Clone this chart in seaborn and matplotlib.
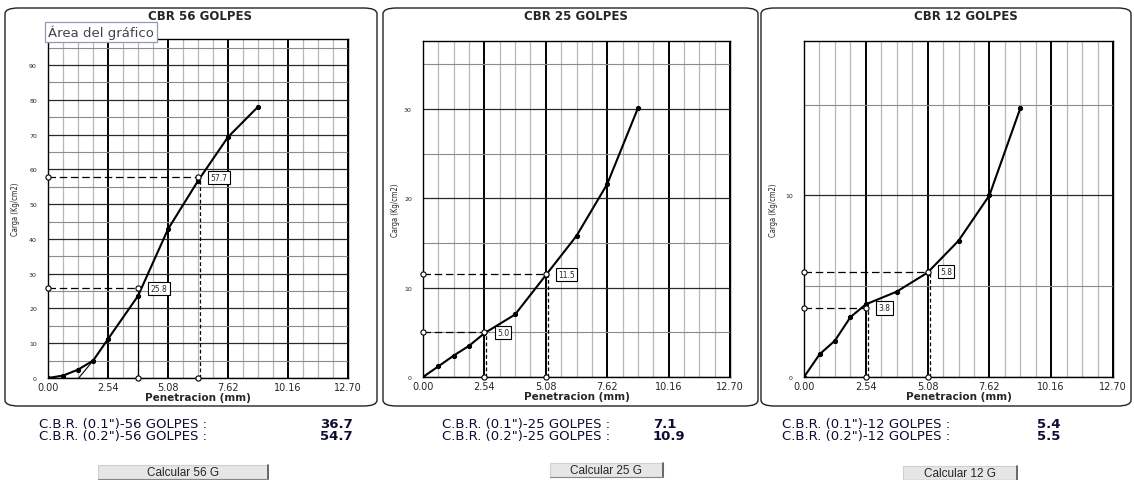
"""CBR curves (56 / 25 / 12 golpes) - carga vs penetracion."""

import matplotlib

matplotlib.use("Agg")
import matplotlib.pyplot as plt
import seaborn as sns
from matplotlib.patches import FancyBboxPatch, Rectangle
from matplotlib.ticker import MultipleLocator

W, H = 1134, 481

# Penetracion (mm) de las lecturas
PENETRATION = [0.00, 0.64, 1.27, 1.91, 2.54, 3.81, 5.08, 6.35, 7.62, 8.89]

# Carga (Kg/cm2) por ensayo
LOAD_56 = [0.0, 0.7, 2.4, 5.0, 11.2, 23.6, 42.8, 56.7, 69.3, 78.0]
LOAD_25 = [0.0, 1.2, 2.4, 3.5, 4.9, 7.0, 11.4, 15.8, 21.6, 30.1]
LOAD_12 = [0.0, 1.25, 2.0, 3.3, 4.0, 4.7, 5.75, 7.5, 10.0, 14.8]

# Lecturas a 0.1" y 0.2" (penetracion corregida, carga)
READ_X_56 = [3.81, 6.35]
READ_Y_56 = [25.8, 57.7]
READ_X_25 = [2.54, 5.08]
READ_Y_25 = [5.0, 11.5]
READ_X_12 = [2.54, 5.08]
READ_Y_12 = [3.8, 5.8]

# Recta de correccion (56 golpes)
CORR_X_56 = [1.30, 1.91]
CORR_Y_56 = [0.0, 5.0]

BLOWS = ["56", "25", "12"]
CBR_01 = ["36.7", "7.1", "5.4"]
CBR_02 = ["54.7", "10.9", "5.5"]

X_TICKS = [0.00, 2.54, 5.08, 7.62, 10.16, 12.70]
X_TICK_LABELS = ["0.00", "2.54", "5.08", "7.62", "10.16", "12.70"]

TEXT_COLOR = "#0d0d33"

sns.set_style("white")
plt.rcParams["font.family"] = ["DejaVu Sans"]


def fx(x):
    return x / W


def fy(y):
    return 1 - y / H


def draw_panel(ax, loads, read_x, read_y, ylabel_x, solid_first=False):
    sns.lineplot(
        x=PENETRATION,
        y=loads,
        ax=ax,
        color="black",
        lw=1.5,
        marker="o",
        markersize=3,
        markeredgecolor="black",
        zorder=5,
    )
    ymax = max(loads) * 1.25
    ax.set_xlim(0, 12.70)
    ax.set_ylim(0, ymax)

    ax.set_xticks(X_TICKS)
    ax.set_xticklabels(X_TICK_LABELS)
    ax.xaxis.set_minor_locator(MultipleLocator(0.635))
    ax.yaxis.set_major_locator(MultipleLocator(10))
    ax.yaxis.set_minor_locator(MultipleLocator(5))

    ax.grid(which="major", axis="x", color="black", lw=1.4, zorder=1)
    ax.grid(which="minor", axis="x", color="#b8b8b8", lw=0.9, zorder=0)
    ax.grid(which="major", axis="y", color="#2a2a2a", lw=0.9, zorder=1)
    ax.grid(which="minor", axis="y", color="#8c8c8c", lw=0.8, zorder=0)
    ax.set_axisbelow(True)

    ax.tick_params(axis="x", which="major", labelsize=7, length=0, pad=3)
    ax.tick_params(axis="y", which="major", labelsize=4.5, length=2, pad=6)
    ax.tick_params(which="minor", length=0)
    for sp in ax.spines.values():
        sp.set_color("black")
        sp.set_linewidth(1.0)

    ax.set_xlabel("Penetracion (mm)", fontsize=7.5, fontweight="bold", labelpad=0)
    ax.set_ylabel("Carga (Kg/cm2)", fontsize=5.5, fontstretch="condensed")
    ax.yaxis.set_label_coords(ylabel_x, 0.5)

    for i, (x, v) in enumerate(zip(read_x, read_y)):
        ax.plot([0, x], [v, v], color="black", lw=0.9, ls=(0, (6, 3)), zorder=4)
        vx = x if (solid_first and i == 0) else x + 0.08
        vls = "-" if (solid_first and i == 0) else (0, (3, 2))
        ax.plot([vx, vx], [0, v], color="black", lw=0.9, ls=vls, zorder=4)
        ax.scatter([0, x, x], [v, 0, v], s=14, facecolors="white",
                   edgecolors="black", linewidths=0.8, zorder=6, clip_on=False)
        ax.annotate(
            f"{v:.1f}",
            xy=(x, v),
            xytext=(9, 0),
            textcoords="offset points",
            va="center",
            ha="left",
            fontsize=5.5,
            zorder=7,
            bbox=dict(boxstyle="square,pad=0.3", fc="white", ec="black", lw=0.8),
        )


fig = plt.figure(figsize=(W / 100, H / 100), dpi=100)
fig.patch.set_facecolor("white")

# panel frames (pixel coords: left, right)
frames = [(5, 377), (383, 758), (761, 1131)]
for left, right in frames:
    fig.add_artist(
        FancyBboxPatch(
            (fx(left), fy(407)),
            fx(right - left),
            (407 - 9) / H,
            boxstyle="round,pad=0,rounding_size=0.012",
            transform=fig.transFigure,
            fc="none",
            ec="#222222",
            lw=1.0,
        )
    )

# axes boxes (pixel coords: left, right, top, bottom)
boxes = [(48, 348, 40, 379), (423, 730, 42, 378), (804, 1113, 42, 378)]
axes = []
for left, right, top, bottom in boxes:
    axes.append(fig.add_axes([fx(left), fy(bottom), fx(right - left), (bottom - top) / H]))

draw_panel(axes[0], LOAD_56, READ_X_56, READ_Y_56, -0.093, solid_first=True)
draw_panel(axes[1], LOAD_25, READ_X_25, READ_Y_25, -0.075)
draw_panel(axes[2], LOAD_12, READ_X_12, READ_Y_12, -0.084)
axes[0].plot(CORR_X_56, CORR_Y_56, color="black", lw=0.8, zorder=4)

# titles
title_x = [200, 576, 966]
for tx, b in zip(title_x, BLOWS):
    fig.text(fx(tx), fy(17), f"CBR {b} GOLPES", ha="center", va="center",
             fontsize=8.5, fontweight="bold")

# tooltip
fig.text(fx(48), fy(33), "Área del gráfico", ha="left", va="center",
         fontsize=9.5, color="#444444",
         bbox=dict(boxstyle="square,pad=0.2", fc="white", ec="#8f9cb0", lw=0.9))

# CBR results
label_x = [39, 442, 782]
value_x = [320, 653, 1037]
for lx, vx, b, c1, c2 in zip(label_x, value_x, BLOWS, CBR_01, CBR_02):
    for row, (txt, val) in enumerate([("0.1", c1), ("0.2", c2)]):
        ypix = 425 + 12 * row
        fig.text(fx(lx), fy(ypix), f'C.B.R. ({txt}")-{b} GOLPES :', ha="left",
                 va="center", fontsize=9.5, color=TEXT_COLOR)
        fig.text(fx(vx), fy(ypix), val, ha="left", va="center", fontsize=9.5,
                 fontweight="bold", color=TEXT_COLOR)

# buttons (left, right, top, bottom)
buttons = [(98, 268, 466, 480), (550, 663, 464, 478), (903, 1017, 467, 481)]
for (bl, br, bt, bb), b in zip(buttons, BLOWS):
    fig.add_artist(Rectangle((fx(bl), fy(bb)), fx(br - bl), (bb - bt) / H,
                             transform=fig.transFigure, fc="#e6e6e6",
                             ec="#d0d0d0", lw=0.8))
    fig.add_artist(plt.Line2D([fx(br), fx(br)], [fy(bb), fy(bt)],
                              transform=fig.transFigure, color="#555555", lw=1.2))
    fig.add_artist(plt.Line2D([fx(bl), fx(br)], [fy(bb), fy(bb)],
                              transform=fig.transFigure, color="#888888", lw=0.8))
    fig.text(fx((bl + br) / 2), fy((bt + bb) / 2), f"Calcular {b} G", ha="center",
             va="center", fontsize=8.5, family="Liberation Sans")

fig.savefig("out.png", dpi=100, facecolor="white")
